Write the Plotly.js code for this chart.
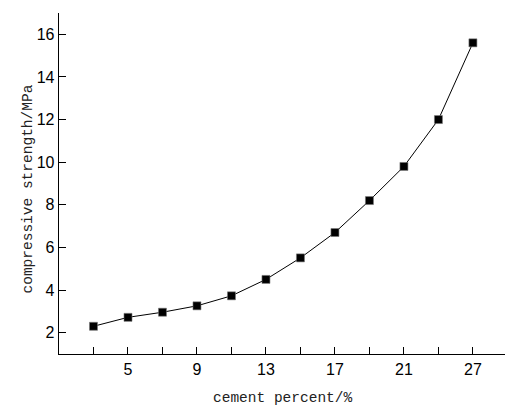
<!DOCTYPE html>
<html><head><meta charset="utf-8">
<script src="https://cdn.plot.ly/plotly-3.0.1.min.js"></script>
<style>html,body{margin:0;padding:0;background:#fff}#chart{width:505px;height:405px}</style>
</head><body><div id="chart"></div>
<script>
const cementPercent = ['3','5','7','9','11','13','15','17','19','21','24','27'];
const strength = [2.30, 2.72, 2.96, 3.26, 3.73, 4.50, 5.51, 6.70, 8.20, 9.80, 12.00, 15.60];
const xTickLabels = ['', '5', '', '9', '', '13', '', '17', '', '21', '', '27'];
const yTicks = [2, 4, 6, 8, 10, 12, 14, 16];
const xTitle = 'cement percent/%';
const yTitle = 'compressive strength/MPa';

const titleFont = {family: 'Liberation Mono, monospace', size: 14.5, color: '#222'};
const trace = {
  x: cementPercent, y: strength, type: 'scatter', mode: 'lines+markers',
  line: {color: '#000', width: 1},
  marker: {symbol: 'square', size: 8, color: '#000', line: {color: '#777', width: 0.6}},
  cliponaxis: false
};
const layout = {
  width: 505, height: 405,
  margin: {l: 59, r: 0, t: 13, b: 51},
  paper_bgcolor: '#fff', plot_bgcolor: '#fff',
  showlegend: false,
  font: {family: 'Liberation Sans, Arial, sans-serif', color: '#000', size: 16},
  xaxis: {
    type: 'category', range: [-1, 11.93],
    tickvals: cementPercent, ticktext: xTickLabels,
    ticks: 'inside', ticklen: 7, tickwidth: 1, tickcolor: '#000',
    showline: true, linecolor: '#000', linewidth: 1.3, showgrid: false, zeroline: false,
    tickfont: {size: 16, family: 'Liberation Sans, Arial, sans-serif'}
  },
  yaxis: {
    range: [1, 17], tickvals: yTicks,
    ticks: 'inside', ticklen: 7, tickwidth: 1, tickcolor: '#000',
    showline: true, linecolor: '#000', linewidth: 1.3, showgrid: false, zeroline: false,
    tickfont: {size: 16, family: 'Liberation Sans, Arial, sans-serif'}
  },
  annotations: [
    {text: xTitle, xref: 'paper', yref: 'paper', x: 0.503, y: 0, yshift: -44,
     xanchor: 'center', yanchor: 'middle', showarrow: false, font: titleFont},
    {text: yTitle, xref: 'paper', yref: 'paper', x: 0, xshift: -32, y: 0.5, yshift: -6,
     textangle: -90, xanchor: 'center', yanchor: 'middle', showarrow: false, font: titleFont}
  ]
};
Plotly.newPlot('chart', [trace], layout, {displayModeBar: false, staticPlot: true});
</script></body></html>
